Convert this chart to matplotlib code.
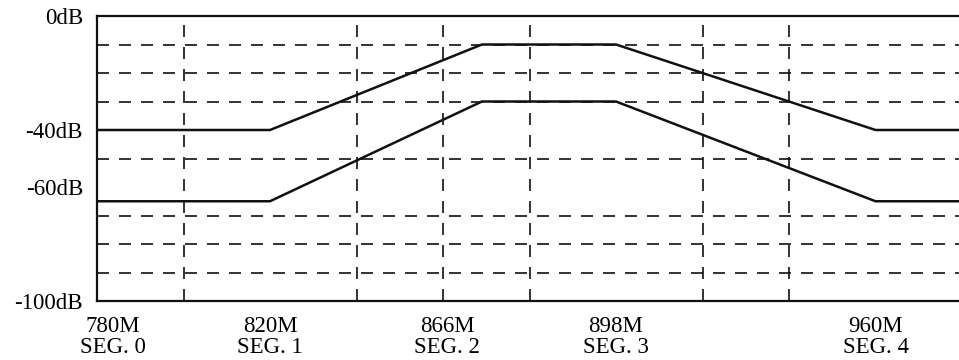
import matplotlib
matplotlib.use("Agg")
import matplotlib.pyplot as plt

# Data (x in chart division units; the frequency axis is segmented, not linear)
x_points = [0.0, 2.0, 4.45, 6.0, 9.0, 10.0]
upper_db = [-40, -40, -10, -10, -40, -40]
lower_db = [-65, -65, -30, -30, -65, -65]

x_tick_pos = [0.18, 2.0, 4.05, 6.0, 9.0]
x_tick_labels = ["780M\nSEG. 0", "820M\nSEG. 1", "866M\nSEG. 2", "898M\nSEG. 3", "960M\nSEG. 4"]
y_tick_pos = [0, -40, -60, -100]
y_tick_labels = ["0dB", "-40dB", "-60dB", "-100dB"]
x_grid = [1, 2, 3, 4, 5, 6, 7, 8, 9]
y_grid = [-10, -20, -30, -40, -50, -60, -70, -80, -90]

plt.rcParams['font.family'] = ['Liberation Serif', 'DejaVu Serif']

fig = plt.figure(figsize=(9.59, 3.6), dpi=100)
ax = fig.add_axes([97/959, 59/360, 1 - 97/959, 285/360])

ax.plot(x_points, upper_db, color='#111111', lw=1.8, solid_capstyle='butt', zorder=3)
ax.plot(x_points, lower_db, color='#111111', lw=1.8, solid_capstyle='butt', zorder=3)

ax.set_xlim(0, 862/86.5)
ax.set_ylim(-100, 0)

ax.set_xticks(x_tick_pos)
ax.set_xticklabels(x_tick_labels, fontsize=16.5, linespacing=1.05)
ax.set_yticks(y_tick_pos)
ax.set_yticklabels(y_tick_labels, fontsize=16.5)
ax.set_xticks(x_grid, minor=True)
ax.set_yticks(y_grid, minor=True)
ax.tick_params(which='both', length=0)
ax.tick_params(axis='y', pad=10)
ax.tick_params(axis='x', pad=10.5)

ax.grid(False)
ax.grid(which='minor', color='#111111', lw=1.2, linestyle=(0, (7.2, 6.0)))

for s in ['left', 'top', 'bottom']:
    ax.spines[s].set_linewidth(1.6)
    ax.spines[s].set_color('#111111')
ax.spines['right'].set_visible(False)

fig.savefig('out.png', dpi=100)
